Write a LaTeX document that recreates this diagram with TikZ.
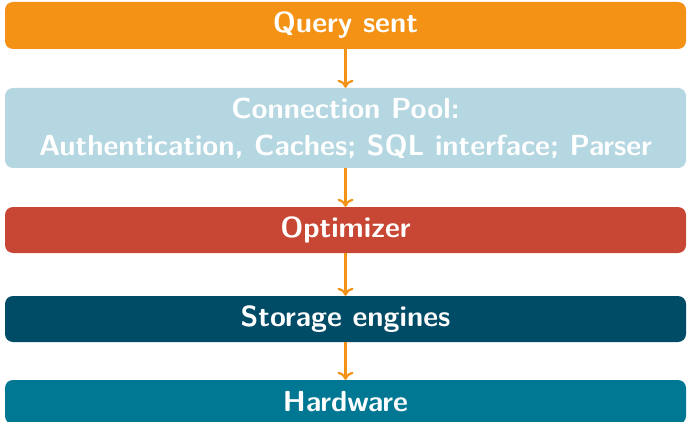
\documentclass[tikz,border=0pt]{standalone}
\usetikzlibrary{arrows.meta}
\definecolor{qorange}{HTML}{F39214}
\definecolor{qlight}{HTML}{B5D7E1}
\definecolor{qred}{HTML}{C84734}
\definecolor{qdark}{HTML}{004C66}
\definecolor{qteal}{HTML}{007793}
\tikzset{
  layer/.style={rounded corners=8pt, minimum width=681pt, inner sep=0pt, align=center,
    text=white, font=\sffamily\bfseries\fontsize{29}{37}\selectfont},
  flow/.style={draw=qorange, line width=2.2pt, -{To[length=8pt,width=16pt,line width=2.2pt]}}
}
\begin{document}
\begin{tikzpicture}[x=1pt,y=1pt]
\useasboundingbox (0,0) rectangle (687,-422);
\begin{scope}
\clip (0,0) rectangle (687,-422);
\node[layer, fill=qorange, minimum height=47pt] (q) at (345.5,-25.5) {Query sent};
\node[layer, fill=qlight, minimum height=80pt] (c) at (345.5,-128) {Connection Pool:\\Authentication, Caches; SQL interface; Parser};
\node[layer, fill=qred, minimum height=46pt] (o) at (345.5,-230) {Optimizer};
\node[layer, fill=qdark, minimum height=46pt] (s) at (345.5,-319) {Storage engines};
\node[layer, fill=qteal, minimum height=44pt] (h) at (345.5,-402) {Hardware};
\draw[flow] (q) -- (c);
\draw[flow] (c) -- (o);
\draw[flow] (o) -- (s);
\draw[flow] (s) -- (h);
\end{scope}
\end{tikzpicture}
\end{document}
